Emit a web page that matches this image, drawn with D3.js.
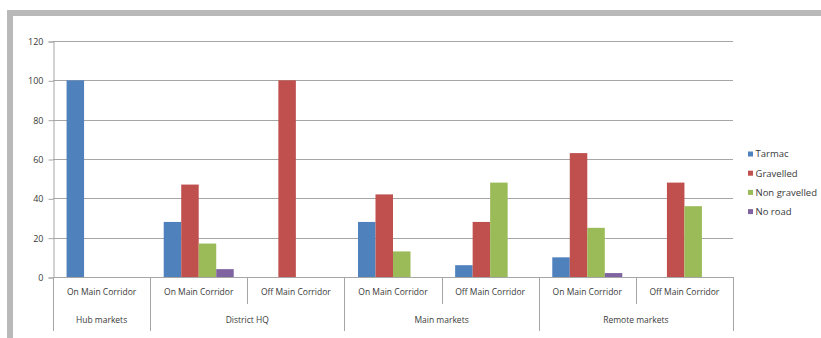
<!DOCTYPE html>
<html>
<head>
<meta charset="utf-8">
<script src="https://cdn.jsdelivr.net/npm/d3@7"></script>
<style>
  html, body { margin: 0; padding: 0; background: #fff; }
  svg { display: block; }
  text { font-family: "Open Sans", "Liberation Sans", sans-serif; fill: #3a3a3a; }
</style>
</head>
<body>
<svg id="chart" width="821" height="338"></svg>
<script>
// ---- data ----
const subCategories = ["On Main Corridor", "On Main Corridor", "Off Main Corridor", "On Main Corridor", "Off Main Corridor", "On Main Corridor", "Off Main Corridor"];
const groupNames = ["Hub markets", "District HQ", "Main markets", "Remote markets"];
const groupSizes = [1, 2, 2, 2];
const seriesNames = ["Tarmac", "Gravelled", "Non gravelled", "No road"];
const tarmac = [100, 28, 0, 28, 6, 10, 0];
const gravelled = [0, 47, 100, 42, 28, 63, 48];
const nonGravelled = [0, 17, 0, 13, 48, 25, 36];
const noRoad = [0, 4, 0, 0, 0, 2, 0];
const yTicks = [0, 20, 40, 60, 80, 100, 120];
const colors = ["#4F81BD", "#C0504D", "#9BBB59", "#8064A2"];

(function () {
const seriesValues = [tarmac, gravelled, nonGravelled, noRoad];

const svg = d3.select("#chart");

// frame borders
svg.append("rect").attr("x", 7).attr("y", 10).attr("width", 814).attr("height", 6).attr("fill", "#b9b9b9");
svg.append("rect").attr("x", 7).attr("y", 10).attr("width", 6).attr("height", 328).attr("fill", "#b9b9b9");

const pLeft = 53, pRight = 733, pTop = 41, pBottom = 277;

const x0 = d3.scaleBand().domain(d3.range(subCategories.length)).range([pLeft, pRight]).padding(0);
const x1 = d3.scaleBand().domain(seriesNames).range([0, x0.bandwidth()]).paddingInner(0).paddingOuter(0.775);
const y = d3.scaleLinear().domain([0, 120]).range([pBottom, pTop]);

// gridlines
svg.append("g").selectAll("line").data(yTicks).join("line")
  .attr("x1", pLeft).attr("x2", pRight)
  .attr("y1", d => Math.round(y(d)) + 0.5).attr("y2", d => Math.round(y(d)) + 0.5)
  .attr("stroke", "#a6a6a6").attr("stroke-width", 1);

// y axis
const yAxis = d3.axisLeft(y).tickValues(yTicks).tickSize(5).tickPadding(5);
const gy = svg.append("g").attr("transform", `translate(${pLeft + 0.5},0.5)`).call(yAxis);
gy.select(".domain").attr("stroke", "#a6a6a6");
gy.selectAll(".tick line").attr("stroke", "#a6a6a6");
gy.selectAll(".tick text").attr("font-size", 9).attr("fill", "#3a3a3a")
  .attr("font-family", "'Open Sans', sans-serif");

// bars
seriesNames.forEach((s, si) => {
  svg.append("g").selectAll("rect").data(seriesValues[si].map((v, i) => ({ v, i })).filter(d => d.v > 0)).join("rect")
    .attr("x", d => x0(d.i) + x1(s))
    .attr("width", x1.bandwidth())
    .attr("y", d => y(d.v))
    .attr("height", d => y(0) - y(d.v))
    .attr("fill", colors[si]);
});

// category axis lines
const ax = svg.append("g").attr("stroke", "#a6a6a6").attr("stroke-width", 1);
const groupStarts = [];
let acc = 0;
groupSizes.forEach(n => { groupStarts.push(acc); acc += n; });
const isGroupBoundary = i => i === 0 || i === subCategories.length || groupStarts.includes(i);
d3.range(subCategories.length + 1).forEach(i => {
  const xx = Math.round(i < subCategories.length ? x0(i) : pRight) + 0.5;
  ax.append("line").attr("x1", xx).attr("x2", xx).attr("y1", pBottom)
    .attr("y2", isGroupBoundary(i) ? 331 : 304);
});

// sub-category labels
svg.append("g").selectAll("text").data(subCategories).join("text")
  .attr("x", (d, i) => x0(i) + x0.bandwidth() / 2)
  .attr("y", 292)
  .attr("dy", "0.35em")
  .attr("text-anchor", "middle")
  .attr("font-size", 8.5)
  .text(d => d);

// group labels
svg.append("g").selectAll("text").data(groupNames).join("text")
  .attr("x", (d, gi) => {
    const a = x0(groupStarts[gi]);
    const b = groupStarts[gi] + groupSizes[gi] < subCategories.length ? x0(groupStarts[gi] + groupSizes[gi]) : pRight;
    return (a + b) / 2;
  })
  .attr("y", 320)
  .attr("dy", "0.35em")
  .attr("text-anchor", "middle")
  .attr("font-size", 8.5)
  .text(d => d);

// legend
const lg = svg.append("g");
seriesNames.forEach((s, i) => {
  const cy = 154 + i * 19.2;
  lg.append("rect").attr("x", 748).attr("y", cy - 2.5).attr("width", 5).attr("height", 5).attr("fill", colors[i]);
  lg.append("text").attr("x", 755.5).attr("y", cy).attr("dy", "0.35em").attr("font-size", 9.5).text(s);
});
})();
</script>
</body>
</html>
